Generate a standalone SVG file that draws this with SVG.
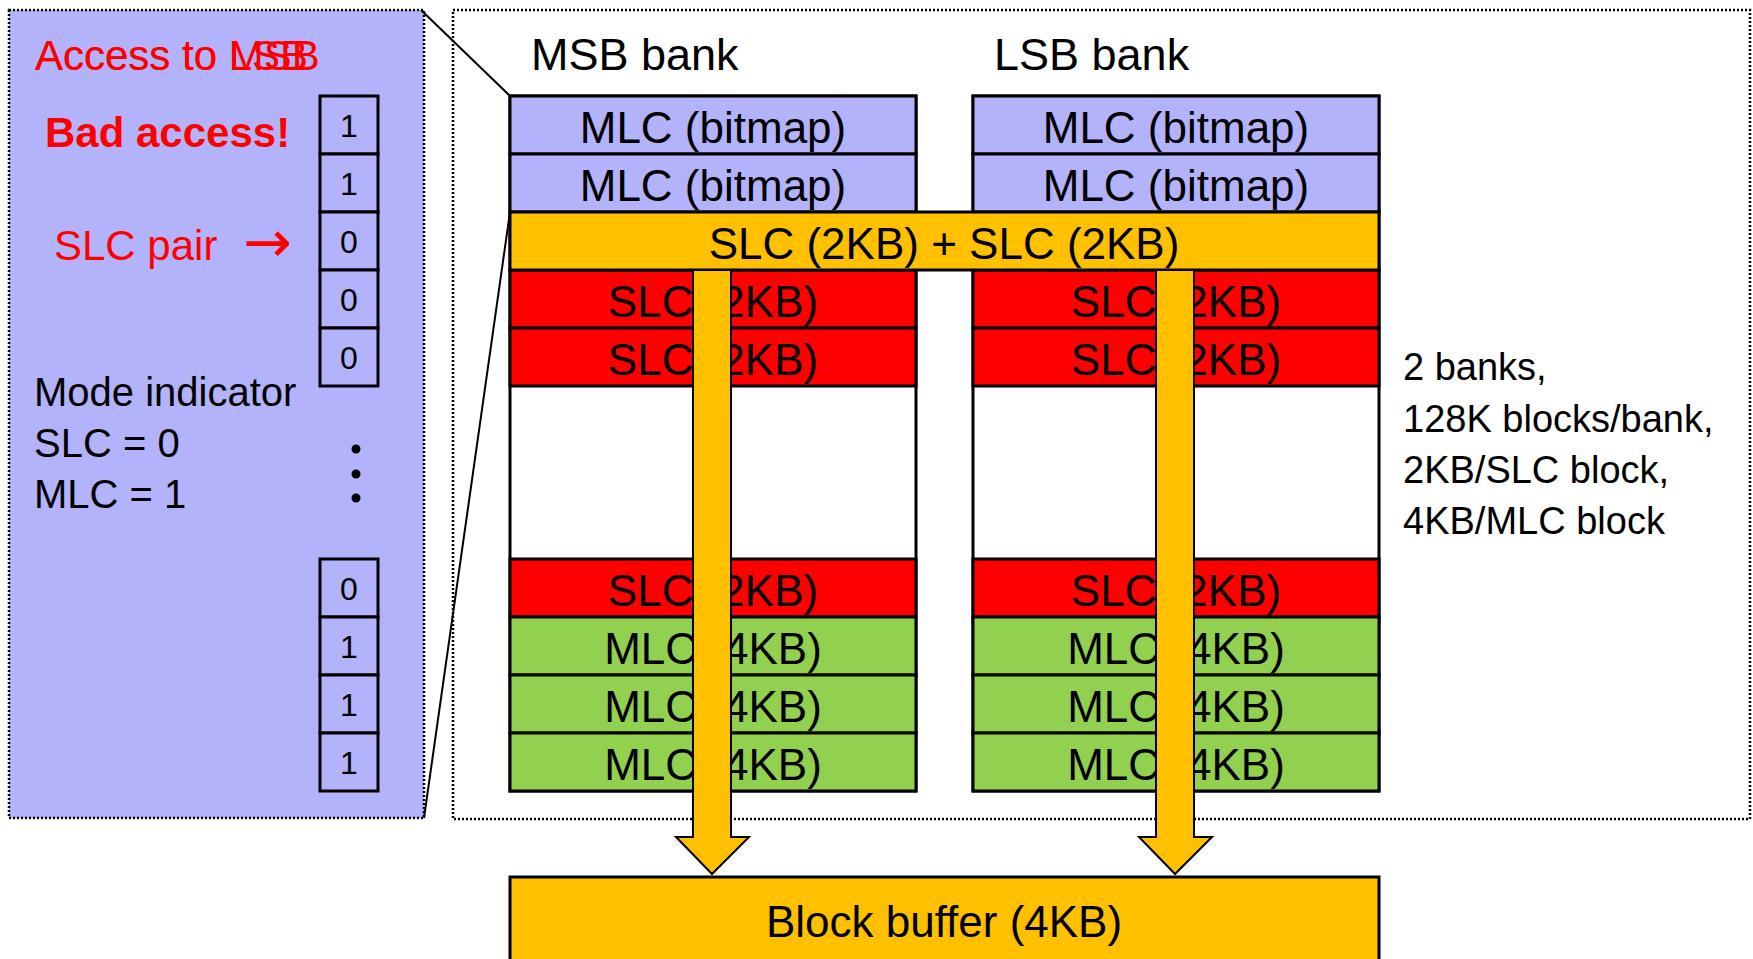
<svg xmlns="http://www.w3.org/2000/svg" width="1753" height="959" viewBox="0 0 1753 959">
<style>
text{font-family:"Liberation Sans",Arial,sans-serif;}
.dot{fill:none;stroke:#000;stroke-width:2.5;stroke-dasharray:2 2;}
.row{stroke:#000;stroke-width:3;}
.lav{fill:#b3b3fc;}
.yel{fill:#ffc000;}
.red{fill:#ff0000;}
.grn{fill:#92d050;}
.bank{font-size:44px;fill:#000;text-anchor:middle;}
.bit{fill:#b3b3fc;stroke:#000;stroke-width:3;}
.bt{font-size:32px;fill:#000;text-anchor:middle;}
.lbl{font-size:40px;fill:#000;}
.rd{font-size:42px;fill:#ff0000;}
.note{font-size:38px;fill:#000;}
.arrow{fill:#ffc000;stroke:#000;stroke-width:2;}
</style>
<rect width="1753" height="959" fill="#fff"/>

<g id="left-panel">
<rect x="9" y="10" width="415" height="808" class="dot lav" style="fill:#b3b3fc"/>
<text x="35" y="70" class="rd">Access to MSB</text>
<text x="35" y="70" class="rd">Access to LSB</text>
<text x="45" y="147" class="rd" style="font-weight:bold">Bad access!</text>
<text x="54" y="260" class="rd">SLC pair</text>
<text x="243" y="262" style="font-family:'DejaVu Sans',sans-serif;font-size:58px;fill:#ff0000">→</text>
<text x="34" y="406" class="lbl">Mode indicator</text>
<text x="34" y="457" class="lbl">SLC = 0</text>
<text x="34" y="508" class="lbl">MLC = 1</text>
<circle cx="356" cy="449" r="4.5"/>
<circle cx="356" cy="474" r="4.5"/>
<circle cx="356" cy="498" r="4.5"/>
</g>

<g id="mode-bits">
<rect x="320" y="96" width="58" height="58" class="bit"/><text x="349" y="137" class="bt">1</text>
<rect x="320" y="154" width="58" height="58" class="bit"/><text x="349" y="195" class="bt">1</text>
<rect x="320" y="212" width="58" height="58" class="bit"/><text x="349" y="253" class="bt">0</text>
<rect x="320" y="270" width="58" height="58" class="bit"/><text x="349" y="311" class="bt">0</text>
<rect x="320" y="328" width="58" height="58" class="bit"/><text x="349" y="369" class="bt">0</text>
<rect x="320" y="559" width="58" height="58" class="bit"/><text x="349" y="600" class="bt">0</text>
<rect x="320" y="617" width="58" height="58" class="bit"/><text x="349" y="658" class="bt">1</text>
<rect x="320" y="675" width="58" height="58" class="bit"/><text x="349" y="716" class="bt">1</text>
<rect x="320" y="733" width="58" height="58" class="bit"/><text x="349" y="774" class="bt">1</text>
</g>

<g id="right-panel">
<rect x="453" y="10" width="1297" height="809" class="dot"/>
<text x="531" y="70" style="font-size:45px;fill:#000">MSB bank</text>
<text x="994" y="70" style="font-size:45px;fill:#000">LSB bank</text>
<text x="1403" y="380" class="note">2 banks,</text>
<text x="1403" y="432" class="note">128K blocks/bank,</text>
<text x="1403" y="483" class="note">2KB/SLC block,</text>
<text x="1403" y="534" class="note">4KB/MLC block</text>
</g>

<g id="msb-bank">
<rect x="510" y="96" width="406" height="695" class="row" fill="#fff"/>
<rect x="510" y="96" width="406" height="58" class="row lav"/><text x="713" y="143" class="bank">MLC (bitmap)</text>
<rect x="510" y="154" width="406" height="58" class="row lav"/><text x="713" y="201" class="bank">MLC (bitmap)</text>
<rect x="510" y="270" width="406" height="58" class="row red"/><text x="713" y="317" class="bank">SLC (2KB)</text>
<rect x="510" y="328" width="406" height="58" class="row red"/><text x="713" y="375" class="bank">SLC (2KB)</text>
<rect x="510" y="559" width="406" height="58" class="row red"/><text x="713" y="606" class="bank">SLC (2KB)</text>
<rect x="510" y="617" width="406" height="58" class="row grn"/><text x="713" y="664" class="bank">MLC (4KB)</text>
<rect x="510" y="675" width="406" height="58" class="row grn"/><text x="713" y="722" class="bank">MLC (4KB)</text>
<rect x="510" y="733" width="406" height="58" class="row grn"/><text x="713" y="780" class="bank">MLC (4KB)</text>
</g>

<g id="lsb-bank">
<rect x="973" y="96" width="406" height="695" class="row" fill="#fff"/>
<rect x="973" y="96" width="406" height="58" class="row lav"/><text x="1176" y="143" class="bank">MLC (bitmap)</text>
<rect x="973" y="154" width="406" height="58" class="row lav"/><text x="1176" y="201" class="bank">MLC (bitmap)</text>
<rect x="973" y="270" width="406" height="58" class="row red"/><text x="1176" y="317" class="bank">SLC (2KB)</text>
<rect x="973" y="328" width="406" height="58" class="row red"/><text x="1176" y="375" class="bank">SLC (2KB)</text>
<rect x="973" y="559" width="406" height="58" class="row red"/><text x="1176" y="606" class="bank">SLC (2KB)</text>
<rect x="973" y="617" width="406" height="58" class="row grn"/><text x="1176" y="664" class="bank">MLC (4KB)</text>
<rect x="973" y="675" width="406" height="58" class="row grn"/><text x="1176" y="722" class="bank">MLC (4KB)</text>
<rect x="973" y="733" width="406" height="58" class="row grn"/><text x="1176" y="780" class="bank">MLC (4KB)</text>
</g>

<g id="slc-pair">
<rect x="510" y="212" width="869" height="58" class="row yel"/>
<text x="944" y="259" class="bank">SLC (2KB) + SLC (2KB)</text>
</g>

<g id="block-buffer">
<rect x="510" y="877" width="869" height="120" class="row yel"/>
<text x="944" y="937" class="bank">Block buffer (4KB)</text>
</g>

<g id="connectors">
<line x1="421" y1="10" x2="510" y2="96" stroke="#000" stroke-width="2"/>
<line x1="424" y1="818" x2="510" y2="212" stroke="#000" stroke-width="2"/>
<path d="M693,271 L693,837 L676,837 L712,874 L749,837 L731,837 L731,271" class="arrow"/>
<path d="M1156,271 L1156,837 L1139,837 L1175,874 L1212,837 L1194,837 L1194,271" class="arrow"/>
</g>
</svg>
